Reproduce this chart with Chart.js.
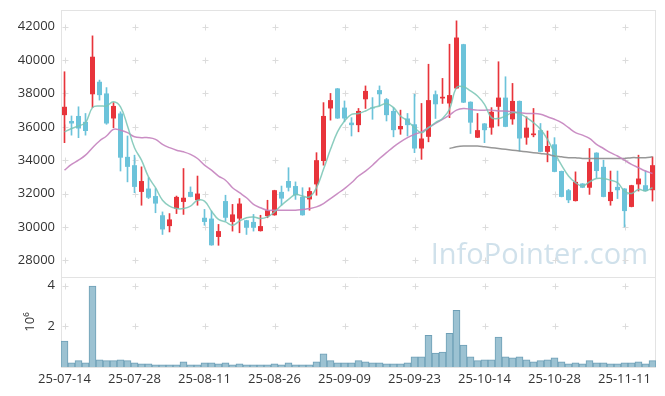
<!DOCTYPE html>
<html>
<head>
<meta charset="utf-8">
<script src="https://cdn.jsdelivr.net/npm/chart.js@4"></script>
<style>
  html, body { margin: 0; padding: 0; background: #fff; }
  canvas { display: block; }
</style>
</head>
<body>
<canvas id="myChart" width="665" height="396"></canvas>
<script>
// trading days (yy-mm-dd)
var dates = [
  '25-07-14','25-07-15','25-07-16','25-07-17','25-07-18','25-07-21','25-07-22','25-07-23','25-07-24','25-07-25',
  '25-07-28','25-07-29','25-07-30','25-07-31','25-08-01','25-08-04','25-08-05','25-08-06','25-08-07','25-08-08',
  '25-08-11','25-08-12','25-08-13','25-08-14','25-08-18','25-08-19','25-08-20','25-08-21','25-08-22','25-08-25',
  '25-08-26','25-08-27','25-08-28','25-08-29','25-09-01','25-09-02','25-09-03','25-09-04','25-09-05','25-09-08',
  '25-09-09','25-09-10','25-09-11','25-09-12','25-09-15','25-09-16','25-09-17','25-09-18','25-09-19','25-09-22',
  '25-09-23','25-09-24','25-09-25','25-09-26','25-09-29','25-09-30','25-10-01','25-10-02','25-10-10','25-10-13',
  '25-10-14','25-10-15','25-10-16','25-10-17','25-10-20','25-10-21','25-10-22','25-10-23','25-10-24','25-10-27',
  '25-10-28','25-10-29','25-10-30','25-10-31','25-11-03','25-11-04','25-11-05','25-11-06','25-11-07','25-11-10',
  '25-11-11','25-11-12','25-11-13','25-11-14','25-11-17'
];

var openPrices = [
  36700,36350,36650,36300,37950,38700,38000,36500,36800,34200,
  33700,32100,32300,31850,30700,30050,31100,31500,32100,31600,
  30550,30500,29400,31550,30300,30500,30400,30300,29750,30650,
  30700,32100,32750,32450,31800,31650,32550,33950,37100,38300,
  37150,36250,36100,37650,37150,38200,37650,36950,35850,36500,
  36150,34700,35400,37950,37700,37400,38300,40950,37500,35350,
  36200,35950,37200,37750,36450,37550,35350,35500,35800,34500,
  34950,33350,32200,31550,32600,32350,34450,33600,31550,32400,
  32300,31200,32550,32500,32200
];
var highPrices = [
  39300,36650,37200,36800,41450,38800,38350,37450,36900,35450,
  34300,33600,32950,32300,30900,30800,31850,33500,32400,33050,
  31050,30950,30150,31900,31350,31700,30400,30750,30700,31600,
  32200,32450,33550,32700,32350,32350,34450,37450,38000,38300,
  37550,36550,37100,38450,37750,38450,37700,37150,37000,36800,
  37950,37400,39750,38150,38900,40950,42350,40950,37500,36800,
  36200,37150,39900,39000,38600,37550,36600,37100,36200,35750,
  35350,33350,32250,33300,32600,34700,34450,34000,33350,33350,
  32300,32500,34300,33350,34200
];
var lowPrices = [
  35050,35500,35350,35500,37150,37600,36150,35950,33350,32700,
  32050,31300,31700,30850,29550,29700,30800,30750,31800,31300,
  30100,28900,28900,30350,29750,29650,29550,29750,29750,30550,
  30700,31300,32150,31650,30700,31000,31900,33700,36400,36500,
  36300,35450,35700,37100,36450,37250,36350,35400,35550,35450,
  34450,34050,35100,36500,37400,36550,38300,37450,35600,35350,
  35050,35550,36050,36000,36150,34550,34950,35400,34500,33900,
  33300,31800,31450,31550,32350,31950,32950,31800,31300,31700,
  30000,31200,32150,32150,31550
];
var closePrices = [
  37200,36200,35900,35750,40200,37900,36200,37250,34150,33600,
  32400,32750,31750,31400,29850,30450,31800,31750,31800,32000,
  30300,28900,29750,30550,30750,31400,29950,29950,30050,31000,
  32200,31700,32350,31900,30700,32150,34000,36650,37600,36500,
  36500,36100,36950,38150,37100,37950,36700,35800,36050,36100,
  34700,35300,37600,37350,37800,37900,41350,37450,36250,35800,
  35800,36900,37750,36000,37550,35300,35950,35600,34500,34850,
  33300,31800,31600,32700,32350,33900,33350,31800,32100,32200,
  30950,32500,32900,32150,33700
];

// moving averages as drawn (5 day, 20 day, long)
var ma5 = [
  35700,35900,36050,36250,37150,37250,37250,37500,37200,36050,
  34750,34000,33000,32350,31600,31250,31100,31100,31250,31600,
  31550,30950,30450,30300,30100,30350,30550,30600,30500,30600,
  30900,31300,31650,31950,31850,31800,32350,33450,34650,35700,
  36350,36750,36800,36950,37150,37250,37400,37150,36650,36350,
  35950,35650,35950,36250,36500,37050,38350,38400,38150,37850,
  37350,36550,36500,36650,36850,36800,36550,36250,35850,35250,
  34450,33700,33050,32650,32450,32700,32900,32900,32800,32650,
  32150,32000,32250,32150,32350
];
var ma20 = [
  33400,33750,34000,34300,34750,35150,35450,35850,35800,35650,
  35400,35350,35350,35250,34950,34750,34600,34500,34350,34100,
  33700,33400,33050,32800,32350,32050,31750,31350,31150,31000,
  31000,31000,31000,31000,31050,31100,31200,31400,31700,32000,
  32300,32650,33050,33350,33700,34100,34450,34800,35100,35350,
  35550,35700,35950,36200,36450,36700,37000,37100,37050,37000,
  37000,37000,36950,36950,36900,36850,36800,36800,36750,36600,
  36450,36250,35950,35650,35500,35300,34950,34700,34450,34250,
  34000,33750,33550,33350,33200
];
var maLong = [
  null,null,null,null,null,null,null,null,null,null,
  null,null,null,null,null,null,null,null,null,null,
  null,null,null,null,null,null,null,null,null,null,
  null,null,null,null,null,null,null,null,null,null,
  null,null,null,null,null,null,null,null,null,null,
  null,null,null,null,null,34700,34800,34850,34850,34850,
  34800,34750,34700,34650,34600,34550,34500,34450,34400,34350,
  34250,34200,34150,34150,34100,34100,34100,34100,34100,34100,
  34100,34150,34150,34150,34200
];

var volumes = [
  1270000,210000,310000,210000,3980000,350000,310000,310000,350000,310000,
  210000,160000,160000,110000,110000,110000,110000,260000,110000,110000,
  210000,210000,160000,210000,110000,160000,110000,110000,110000,110000,
  160000,110000,210000,110000,110000,110000,260000,650000,310000,210000,
  210000,210000,310000,260000,210000,210000,160000,160000,160000,210000,
  500000,500000,1560000,690000,740000,1660000,2790000,1080000,500000,310000,
  350000,350000,1470000,500000,450000,500000,350000,260000,310000,350000,
  450000,260000,160000,210000,160000,310000,210000,210000,160000,160000,
  210000,210000,260000,160000,310000
];

// tick values
var priceTicks = [28000, 30000, 32000, 34000, 36000, 38000, 40000, 42000];
var volumeTicks = [2000000, 4000000];
var dateTickEvery = 10;

var upColor = '#e8343b';
var downColor = '#6cc3da';
var tickFont = { family: 'Open Sans', size: 13 };

// wick = [low, high], body = [open, close]
var wicks = dates.map(function(d, i) { return [lowPrices[i], highPrices[i]]; });
var bodies = dates.map(function(d, i) { return [openPrices[i], closePrices[i]]; });
var candleColors = dates.map(function(d, i) {
  return closePrices[i] >= openPrices[i] ? upColor : downColor;
});

function setTicks(values) {
  return function(s) {
    s.ticks = values.map(function(v) { return { value: v }; });
  };
}

// fixed width for the left axes, no extra label padding above/below
function fitLeft(s) {
  s.width = 61;
  s.paddingTop = 0;
  s.paddingBottom = 0;
}

// plus marks, frame and watermark
var decorPlugin = {
  id: 'decor',
  beforeDatasetsDraw: function(chart) {
    var ctx = chart.ctx;
    var area = chart.chartArea;
    var xs = chart.scales.x;
    var ys = chart.scales.y;
    var yv = chart.scales.yv;

    ctx.save();
    ctx.font = '29px "Open Sans"';
    ctx.fillStyle = 'rgba(170,200,218,0.55)';
    ctx.textAlign = 'right';
    ctx.textBaseline = 'alphabetic';
    ctx.fillText('InfoPointer.com', area.right - 8, ys.bottom - 13);

    ctx.strokeStyle = '#dcdcdc';
    ctx.lineWidth = 1;
    var yPix = [];
    ys.ticks.forEach(function(t) { yPix.push(ys.getPixelForValue(t.value)); });
    yv.ticks.forEach(function(t) { yPix.push(yv.getPixelForValue(t.value)); });
    xs.ticks.forEach(function(t) {
      var px = Math.round(xs.getPixelForValue(t.value)) + 0.5;
      yPix.forEach(function(py) {
        py = Math.round(py) + 0.5;
        ctx.beginPath();
        ctx.moveTo(px - 3, py); ctx.lineTo(px + 3, py);
        ctx.moveTo(px, py - 3); ctx.lineTo(px, py + 3);
        ctx.stroke();
      });
    });

    ctx.strokeStyle = '#e3e3e3';
    ctx.strokeRect(Math.round(area.left) + 0.5, Math.round(area.top) + 0.5,
      Math.round(area.right - area.left) - 1, Math.round(area.bottom - area.top));
    var sep = Math.round(ys.bottom) + 0.5;
    ctx.beginPath();
    ctx.moveTo(area.left, sep); ctx.lineTo(area.right, sep);
    ctx.stroke();
    ctx.restore();
  }
};

var ctx = document.getElementById('myChart');
var myChart = new Chart(ctx, {
  type: 'bar',
  data: {
    labels: dates,
    datasets: [
      {
        type: 'line', label: 'MA5', data: ma5, yAxisID: 'y', order: 0,
        borderColor: 'rgba(120,196,180,0.85)', borderWidth: 1.5,
        pointRadius: 0, tension: 0.4, fill: false
      },
      {
        type: 'line', label: 'MA20', data: ma20, yAxisID: 'y', order: 0,
        borderColor: 'rgba(196,130,190,0.9)', borderWidth: 1.5,
        pointRadius: 0, tension: 0.4, fill: false
      },
      {
        type: 'line', label: 'MA long', data: maLong, yAxisID: 'y', order: 0,
        borderColor: 'rgba(140,140,140,0.9)', borderWidth: 1.5,
        pointRadius: 0, tension: 0.4, fill: false
      },
      {
        label: 'wick', data: wicks, yAxisID: 'y', order: 2,
        backgroundColor: candleColors, barThickness: 1, grouped: false
      },
      {
        label: 'body', data: bodies, yAxisID: 'y', order: 1,
        backgroundColor: candleColors, barPercentage: 0.72, categoryPercentage: 1,
        grouped: false, minBarLength: 1
      },
      {
        label: 'volume', data: volumes, yAxisID: 'yv', order: 3,
        backgroundColor: '#9cc2d2', borderColor: '#6e9fb6', borderWidth: 1,
        barPercentage: 1, categoryPercentage: 1, grouped: false
      }
    ]
  },
  options: {
    responsive: false,
    animation: false,
    layout: { padding: { left: 0, right: 9, top: 10, bottom: 7 } },
    plugins: {
      legend: { display: false },
      tooltip: { enabled: false }
    },
    scales: {
      x: {
        type: 'category',
        offset: true,
        grid: { display: false, drawTicks: false },
        border: { display: false },
        ticks: { autoSkip: false, maxRotation: 0, font: tickFont, color: '#333', padding: 4 },
        afterBuildTicks: function(s) {
          s.ticks = s.ticks.filter(function(t) { return t.value % dateTickEvery === 0; });
        },
        afterFit: function(s) { s.height = 22; }
      },
      y: {
        position: 'left',
        stack: 'panels',
        stackWeight: 267,
        weight: 1,
        min: 27000,
        max: 43000,
        grid: { display: false, drawTicks: false },
        border: { display: false },
        ticks: { font: tickFont, color: '#333', padding: 6, callback: function(v) { return String(v); } },
        afterBuildTicks: setTicks(priceTicks),
        afterFit: fitLeft
      },
      yv: {
        position: 'left',
        stack: 'panels',
        stackWeight: 90,
        weight: 0,
        min: 0,
        max: 4430000,
        grid: { display: false, drawTicks: false },
        border: { display: false },
        title: { display: true, text: '10\u2076', font: tickFont, color: '#333', padding: { top: 22, bottom: 0 } },
        ticks: {
          font: tickFont, color: '#333', padding: 6,
          callback: function(v) { return String(v / 1000000); }
        },
        afterBuildTicks: setTicks(volumeTicks),
        afterFit: fitLeft
      }
    }
  },
  plugins: [decorPlugin]
});
</script>
</body>
</html>
